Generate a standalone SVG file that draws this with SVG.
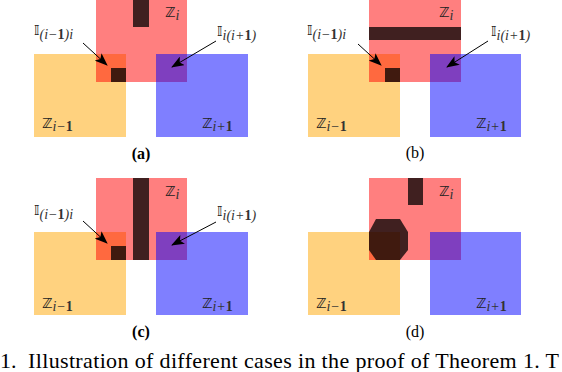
<svg xmlns="http://www.w3.org/2000/svg" width="562" height="372" viewBox="0 0 562 372">
<style>
.or{fill:#ffa500;fill-opacity:0.5}
.rd{fill:#ff0000;fill-opacity:0.5}
.bl{fill:#0000ff;fill-opacity:0.5}
.dk{fill:#000;fill-opacity:0.75}
.lb{font-family:"DejaVu Sans","Liberation Serif",serif;font-size:14px;fill:#222}
.sb{font-family:"Liberation Serif",serif;font-size:14px;font-style:italic;fill:#333}
.nb{font-style:normal;font-weight:bold}
.cap{font-family:"Liberation Serif",serif;font-size:16px;text-anchor:middle;fill:#000}
.arr{stroke:#000;stroke-width:1;fill:none;marker-end:url(#ah)}
.txt{font-family:"Liberation Serif",serif;font-size:22px;fill:#000}
</style>
<defs>
<marker id="ah" markerWidth="14" markerHeight="10" refX="12" refY="5" orient="auto" markerUnits="userSpaceOnUse">
<path d="M0,0 L13,5 L0,10 L3,5 Z" fill="#000"/>
</marker>
</defs>
<g id="panel-a">
<rect class="or" x="34" y="54" width="92" height="83"/>
<rect class="rd" x="96" y="0" width="91" height="82"/>
<rect class="bl" x="156" y="54" width="92" height="83"/>
<rect class="dk" x="133" y="0" width="16" height="27"/>
<rect class="dk" x="111" y="68" width="15" height="14"/>
<text class="lb" x="165" y="17">ℤ<tspan class="sb" dy="3">i</tspan></text>
<text class="lb" x="42" y="128">ℤ<tspan class="sb" dy="3">i−</tspan><tspan class="sb nb">1</tspan></text>
<text class="lb" x="202" y="128">ℤ<tspan class="sb" dy="3">i+</tspan><tspan class="sb nb">1</tspan></text>
<text class="lb" x="34" y="35">𝕀<tspan class="sb" dy="4">(i−</tspan><tspan class="sb nb">1</tspan><tspan class="sb">)i</tspan></text>
<text class="lb" x="217" y="36">𝕀<tspan class="sb" dy="4">i(i+</tspan><tspan class="sb nb">1</tspan><tspan class="sb">)</tspan></text>
<text class="cap" x="141" y="159" font-weight="bold">(a)</text>
</g>
<g id="panel-b" transform="translate(273,0)">
<rect class="or" x="35" y="54" width="92" height="83"/>
<rect class="rd" x="96" y="0" width="92" height="82"/>
<rect class="bl" x="157" y="54" width="91" height="83"/>
<rect class="dk" x="96" y="27" width="92" height="13"/>
<rect class="dk" x="112" y="68" width="15" height="14"/>
<text class="lb" x="166" y="17">ℤ<tspan class="sb" dy="3">i</tspan></text>
<text class="lb" x="43" y="128">ℤ<tspan class="sb" dy="3">i−</tspan><tspan class="sb nb">1</tspan></text>
<text class="lb" x="203" y="128">ℤ<tspan class="sb" dy="3">i+</tspan><tspan class="sb nb">1</tspan></text>
<text class="lb" x="34" y="35">𝕀<tspan class="sb" dy="4">(i−</tspan><tspan class="sb nb">1</tspan><tspan class="sb">)i</tspan></text>
<text class="lb" x="218" y="36">𝕀<tspan class="sb" dy="4">i(i+</tspan><tspan class="sb nb">1</tspan><tspan class="sb">)</tspan></text>
<text class="cap" x="142" y="158">(b)</text>
</g>
<g id="panel-c" transform="translate(0,178)">
<rect class="or" x="34" y="54" width="92" height="83"/>
<rect class="rd" x="96" y="0" width="91" height="82"/>
<rect class="bl" x="156" y="54" width="92" height="83"/>
<rect class="dk" x="133" y="0" width="16" height="82"/>
<rect class="dk" x="111" y="68" width="15" height="14"/>
<text class="lb" x="165" y="18">ℤ<tspan class="sb" dy="3">i</tspan></text>
<text class="lb" x="42" y="130">ℤ<tspan class="sb" dy="3">i−</tspan><tspan class="sb nb">1</tspan></text>
<text class="lb" x="202" y="130">ℤ<tspan class="sb" dy="3">i+</tspan><tspan class="sb nb">1</tspan></text>
<text class="lb" x="34" y="37">𝕀<tspan class="sb" dy="4">(i−</tspan><tspan class="sb nb">1</tspan><tspan class="sb">)i</tspan></text>
<text class="lb" x="217" y="38">𝕀<tspan class="sb" dy="4">i(i+</tspan><tspan class="sb nb">1</tspan><tspan class="sb">)</tspan></text>
<text class="cap" x="141" y="159" font-weight="bold">(c)</text>
</g>
<g id="panel-d" transform="translate(273,178)">
<rect class="or" x="35" y="54" width="92" height="83"/>
<rect class="rd" x="96" y="0" width="92" height="82"/>
<rect class="bl" x="157" y="54" width="91" height="83"/>
<rect class="dk" x="135" y="0" width="15" height="27"/>
<polygon class="dk" points="103,41 127,41 135,54 135,72 127,82 103,82 96,72 96,54"/>
<text class="lb" x="166" y="18">ℤ<tspan class="sb" dy="3">i</tspan></text>
<text class="lb" x="43" y="130">ℤ<tspan class="sb" dy="3">i−</tspan><tspan class="sb nb">1</tspan></text>
<text class="lb" x="203" y="130">ℤ<tspan class="sb" dy="3">i+</tspan><tspan class="sb nb">1</tspan></text>
<text class="cap" x="142" y="159">(d)</text>
</g>
<g id="connectors">
<line class="arr" x1="83" y1="43" x2="107" y2="65"/>
<line class="arr" x1="216" y1="41" x2="172" y2="67"/>
<line class="arr" x1="358" y1="44" x2="381" y2="65"/>
<line class="arr" x1="488" y1="41" x2="447" y2="67"/>
<line class="arr" x1="83" y1="221" x2="107" y2="243"/>
<line class="arr" x1="216" y1="222" x2="172" y2="245"/>
</g>
<text class="txt" x="0" y="368">1.</text>
<text class="txt" x="28" y="368" textLength="531" lengthAdjust="spacing">Illustration of different cases in the proof of Theorem 1. T</text>
</svg>
